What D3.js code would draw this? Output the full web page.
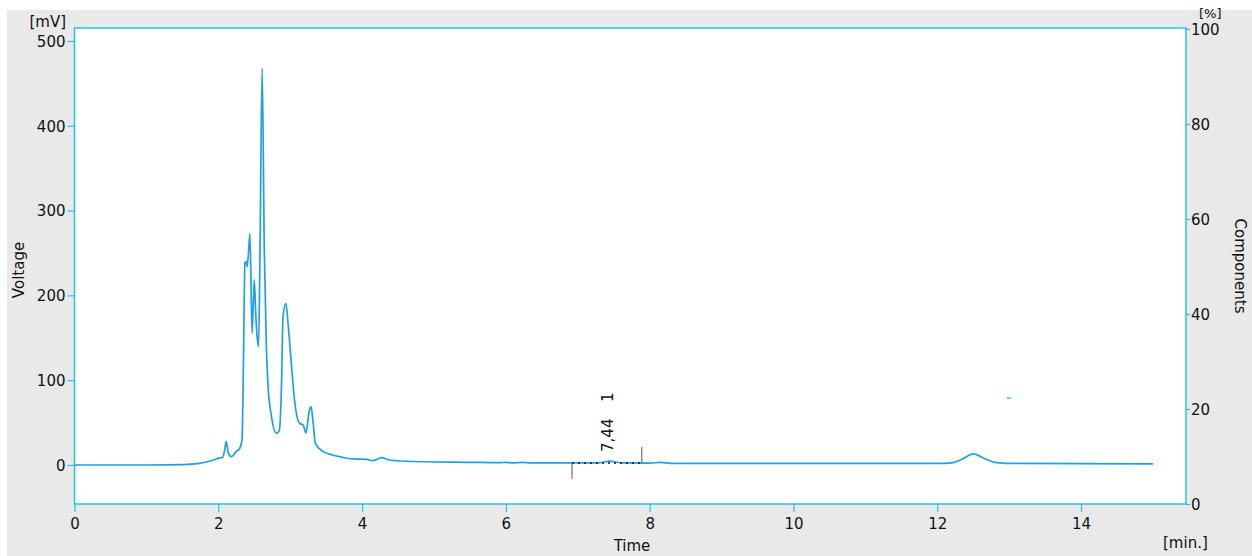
<!DOCTYPE html>
<html>
<head>
<meta charset="utf-8">
<script src="https://cdn.jsdelivr.net/npm/d3@7"></script>
<style>
  html, body { margin: 0; padding: 0; background: #ffffff; }
  svg { display: block; font-family: "DejaVu Sans", Verdana, sans-serif; }
</style>
</head>
<body>
<svg id="chart" width="1252" height="556"></svg>
<script>
// ---- data ----
const timeMin = [0, 1.0, 1.5, 1.74, 1.9, 2.02, 2.06, 2.09, 2.11, 2.14, 2.18, 2.25, 2.30, 2.33, 2.35, 2.37, 2.39, 2.40, 2.42, 2.44,
  2.47, 2.50, 2.52, 2.54, 2.56, 2.58, 2.61, 2.64, 2.67, 2.69, 2.74, 2.81, 2.85, 2.88, 2.90, 2.94, 2.97, 3.02, 3.06, 3.13,
  3.18, 3.22, 3.26, 3.29, 3.32, 3.35, 3.46, 3.59, 3.69, 3.87, 4.06, 4.15, 4.27, 4.38, 4.52, 4.99, 5.45, 5.91, 6.0, 6.1,
  6.23, 6.35, 6.9, 7.3, 7.44, 7.6, 8.0, 8.15, 8.3, 9.0, 10.0, 11.0, 12.0, 12.2, 12.35, 12.5, 12.65, 12.8, 12.95, 14.0, 15.0];
const voltage = [0, 0, 0.5, 2, 5, 8.3, 9, 18, 27.5, 14, 9.8, 15.7, 20, 29.5, 120, 237.9, 239.7, 233.8, 250, 273.2,
  155.3, 218.2, 180, 151.3, 139.5, 250, 467.8, 253.5, 135.6, 96.7, 57, 37.4, 41.3, 96.7, 174.9, 190.7, 167.1, 115.9, 76.7, 49.2,
  47.2, 37.7, 61.3, 68.8, 49.2, 25.6, 15.7, 11.8, 9.8, 7.1, 6.7, 5.1, 8.6, 5.9, 4.7, 3.5, 3.2, 2.7, 3.2, 2.6,
  3.0, 2.4, 2.4, 2.6, 4.5, 2.6, 2.3, 3.0, 2.0, 1.8, 1.8, 1.8, 1.8, 2.5, 7, 13, 8, 3, 2, 1.5, 1.3];

const xTicks = [0, 2, 4, 6, 8, 10, 12, 14];
const yTicks = [0, 100, 200, 300, 400, 500];
const pctTicks = [0, 20, 40, 60, 80, 100];

// integrated peak annotation
const peakStart = [6.92];
const peakEnd = [7.89];
const peakBase = [2.4];
const peakTime = [7.42];
const peakLabel = ["7,44"];
const peakNumber = ["1"];
// stray marker near 13 min
const strayMarkT = [12.97, 13.03];
const strayMarkV = [79, 79];

// ---- drawing ----
const svg = d3.select("#chart");
const W = 1252, H = 556;
const axisCol = "#22c3f2";
const lineCol = "#1f9fe6";

const x = d3.scaleLinear().domain([0, 15.46]).range([74.5, 1186]);
const y = d3.scaleLinear().domain([-46, 515.3]).range([504, 28]);
const yR = d3.scaleLinear().domain([0, 100]).range([504, 29]);

svg.append("rect").attr("x", 7).attr("y", 10).attr("width", W - 7).attr("height", H - 10).attr("fill", "#e9e9e9");
svg.append("rect").attr("x", 74.5).attr("y", 28).attr("width", 1186 - 74.5).attr("height", 504 - 28)
  .attr("fill", "#ffffff").attr("stroke", axisCol).attr("stroke-width", 1.5);

// axes
const gx = svg.append("g").attr("transform", "translate(0,504)")
  .call(d3.axisBottom(x).tickValues(xTicks).tickSize(8).tickPadding(6).tickFormat(d3.format("d")));
const gy = svg.append("g").attr("transform", "translate(74.5,0)")
  .call(d3.axisLeft(y).tickValues(yTicks).tickSize(7).tickPadding(2).tickFormat(d3.format("d")));
const gr = svg.append("g").attr("transform", "translate(1186,0)")
  .call(d3.axisRight(yR).tickValues(pctTicks).tickSize(4).tickPadding(1).tickFormat(d3.format("d")));
[gx, gy, gr].forEach(g => {
  g.select(".domain").remove();
  g.selectAll(".tick line").attr("stroke", axisCol).attr("stroke-width", 1.2);
  g.selectAll(".tick text").attr("fill", "#111").attr("font-size", 15)
    .attr("font-family", "DejaVu Sans, Verdana, sans-serif");
});
gy.selectAll(".tick text").attr("dy", "0.36em");
gr.selectAll(".tick text").attr("dy", "0.36em");

// curve
const pts = timeMin.map((t, i) => [t, voltage[i]]);
const line = d3.line().x(d => x(d[0])).y(d => y(d[1])).curve(d3.curveMonotoneX);
svg.append("path").datum(pts).attr("d", line).attr("fill", "none")
  .attr("stroke", lineCol).attr("stroke-width", 1.7).attr("stroke-linejoin", "round");

// stray mark
svg.append("line").attr("x1", x(strayMarkT[0])).attr("x2", x(strayMarkT[1]))
  .attr("y1", y(strayMarkV[0])).attr("y2", y(strayMarkV[1]))
  .attr("stroke", "#6fd0f3").attr("stroke-width", 2);

// peak annotation
peakStart.forEach((s, i) => {
  const e = peakEnd[i], b = y(peakBase[i]);
  svg.append("line").attr("x1", x(s)).attr("x2", x(e)).attr("y1", b).attr("y2", b)
    .attr("stroke", "#111").attr("stroke-width", 1.6).attr("stroke-dasharray", "2,4");
  svg.append("line").attr("x1", x(s)).attr("x2", x(s)).attr("y1", b).attr("y2", b + 16)
    .attr("stroke", "#555").attr("stroke-width", 1);
  svg.append("line").attr("x1", x(e)).attr("x2", x(e)).attr("y1", b - 16).attr("y2", b)
    .attr("stroke", "#555").attr("stroke-width", 1);
  const tx = x(peakTime[i]) + 5;
  svg.append("text").attr("transform", `translate(${tx},${b - 11}) rotate(-90)`)
    .attr("font-size", 15).attr("fill", "#111").text(peakLabel[i]);
  svg.append("text").attr("transform", `translate(${tx},${b - 61}) rotate(-90)`)
    .attr("font-size", 15).attr("fill", "#111").text(peakNumber[i]);
});

// axis titles
svg.append("text").attr("x", 66).attr("y", 27).attr("text-anchor", "end")
  .attr("font-size", 15).attr("fill", "#111").text("[mV]");
svg.append("text").attr("x", 1199).attr("y", 18).attr("text-anchor", "start")
  .attr("font-size", 13).attr("fill", "#111").text("[%]");
svg.append("text").attr("transform", "translate(24,270) rotate(-90)").attr("text-anchor", "middle")
  .attr("font-size", 15).attr("fill", "#111").text("Voltage");
svg.append("text").attr("transform", "translate(1235,266) rotate(90)").attr("text-anchor", "middle")
  .attr("font-size", 15).attr("fill", "#111").text("Components");
svg.append("text").attr("x", 632).attr("y", 551).attr("text-anchor", "middle")
  .attr("font-size", 15).attr("fill", "#111").text("Time");
svg.append("text").attr("x", 1163).attr("y", 548).attr("text-anchor", "start")
  .attr("font-size", 15).attr("fill", "#111").text("[min.]");
</script>
</body>
</html>
